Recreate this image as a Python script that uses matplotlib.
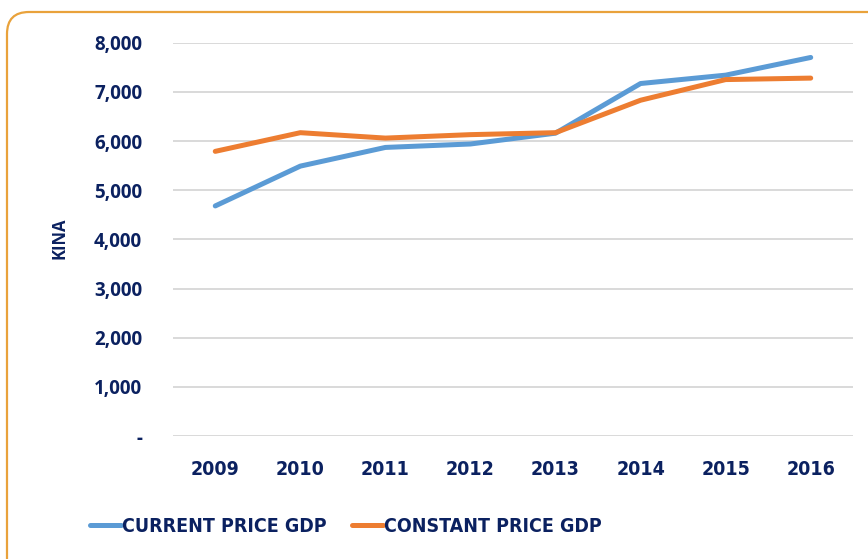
import matplotlib
matplotlib.use('Agg')
import matplotlib.pyplot as plt
from matplotlib.patches import FancyBboxPatch
from matplotlib.ticker import FuncFormatter

# GDP per capita data
years = ['2009', '2010', '2011', '2012', '2013', '2014', '2015', '2016']
current_price_gdp = [4680, 5490, 5870, 5940, 6160, 7170, 7340, 7700]
constant_price_gdp = [5790, 6170, 6060, 6130, 6170, 6830, 7250, 7280]

navy = '#0B2160'
blue = '#5B9BD5'
orange = '#ED7D31'
narrow = ['DejaVu Sans']

fig = plt.figure(figsize=(8.68, 5.59), dpi=100)
ax = fig.add_axes([0.199, 0.22, 0.784, 0.7036])

x = range(len(years))
ax.plot(x, current_price_gdp, color=blue, lw=3.6, solid_capstyle='round', label='CURRENT PRICE GDP')
ax.plot(x, constant_price_gdp, color=orange, lw=3.6, solid_capstyle='round', label='CONSTANT PRICE GDP')

ax.set_xlim(-0.5, len(years) - 0.5)
ax.set_ylim(0, 8000)
ax.set_yticks(range(0, 8001, 1000))
ax.yaxis.set_major_formatter(FuncFormatter(lambda v, p: '-' if v == 0 else f'{int(v):,}'))
ax.set_xticks(list(x))
ax.set_xticklabels(years)

ax.grid(axis='y', color='#D9D9D9', lw=1.4)
ax.set_axisbelow(True)
for s in ax.spines.values():
    s.set_visible(False)
ax.tick_params(axis='both', length=0)
ax.tick_params(axis='y', pad=22)
ax.tick_params(axis='x', pad=17)

for lbl in ax.get_yticklabels():
    lbl.set_fontfamily('Open Sans')
    lbl.set_fontweight('bold')
    lbl.set_fontsize(13.5)
    lbl.set_color(navy)
for lbl in ax.get_xticklabels():
    lbl.set_fontfamily(narrow)
    lbl.set_fontstretch('condensed')
    lbl.set_fontweight('bold')
    lbl.set_fontsize(14)
    lbl.set_color(navy)

fig.text(0.069, 0.574, 'KINA', rotation=90, ha='center', va='center',
         fontsize=12, fontweight='bold', color=navy, family='Open Sans')

leg = fig.legend(loc='center left', bbox_to_anchor=(0.1037, 0.058), ncol=2, frameon=False,
                 borderpad=0, borderaxespad=0,
                 handlelength=1.6, handletextpad=0.05, columnspacing=1.3,
                 prop={'family': narrow, 'weight': 'bold', 'size': 14, 'stretch': 'condensed'})
for t in leg.get_texts():
    t.set_color(navy)

# rounded orange frame
frame = FancyBboxPatch((0.07, -0.5), 9.0, 5.59 - 0.12 + 0.5,
                       boxstyle='round,pad=0,rounding_size=0.22',
                       transform=fig.dpi_scale_trans, fill=False,
                       edgecolor='#E9A23B', lw=1.6, clip_on=False)
fig.patches.append(frame)

fig.savefig('out.png', dpi=100)
